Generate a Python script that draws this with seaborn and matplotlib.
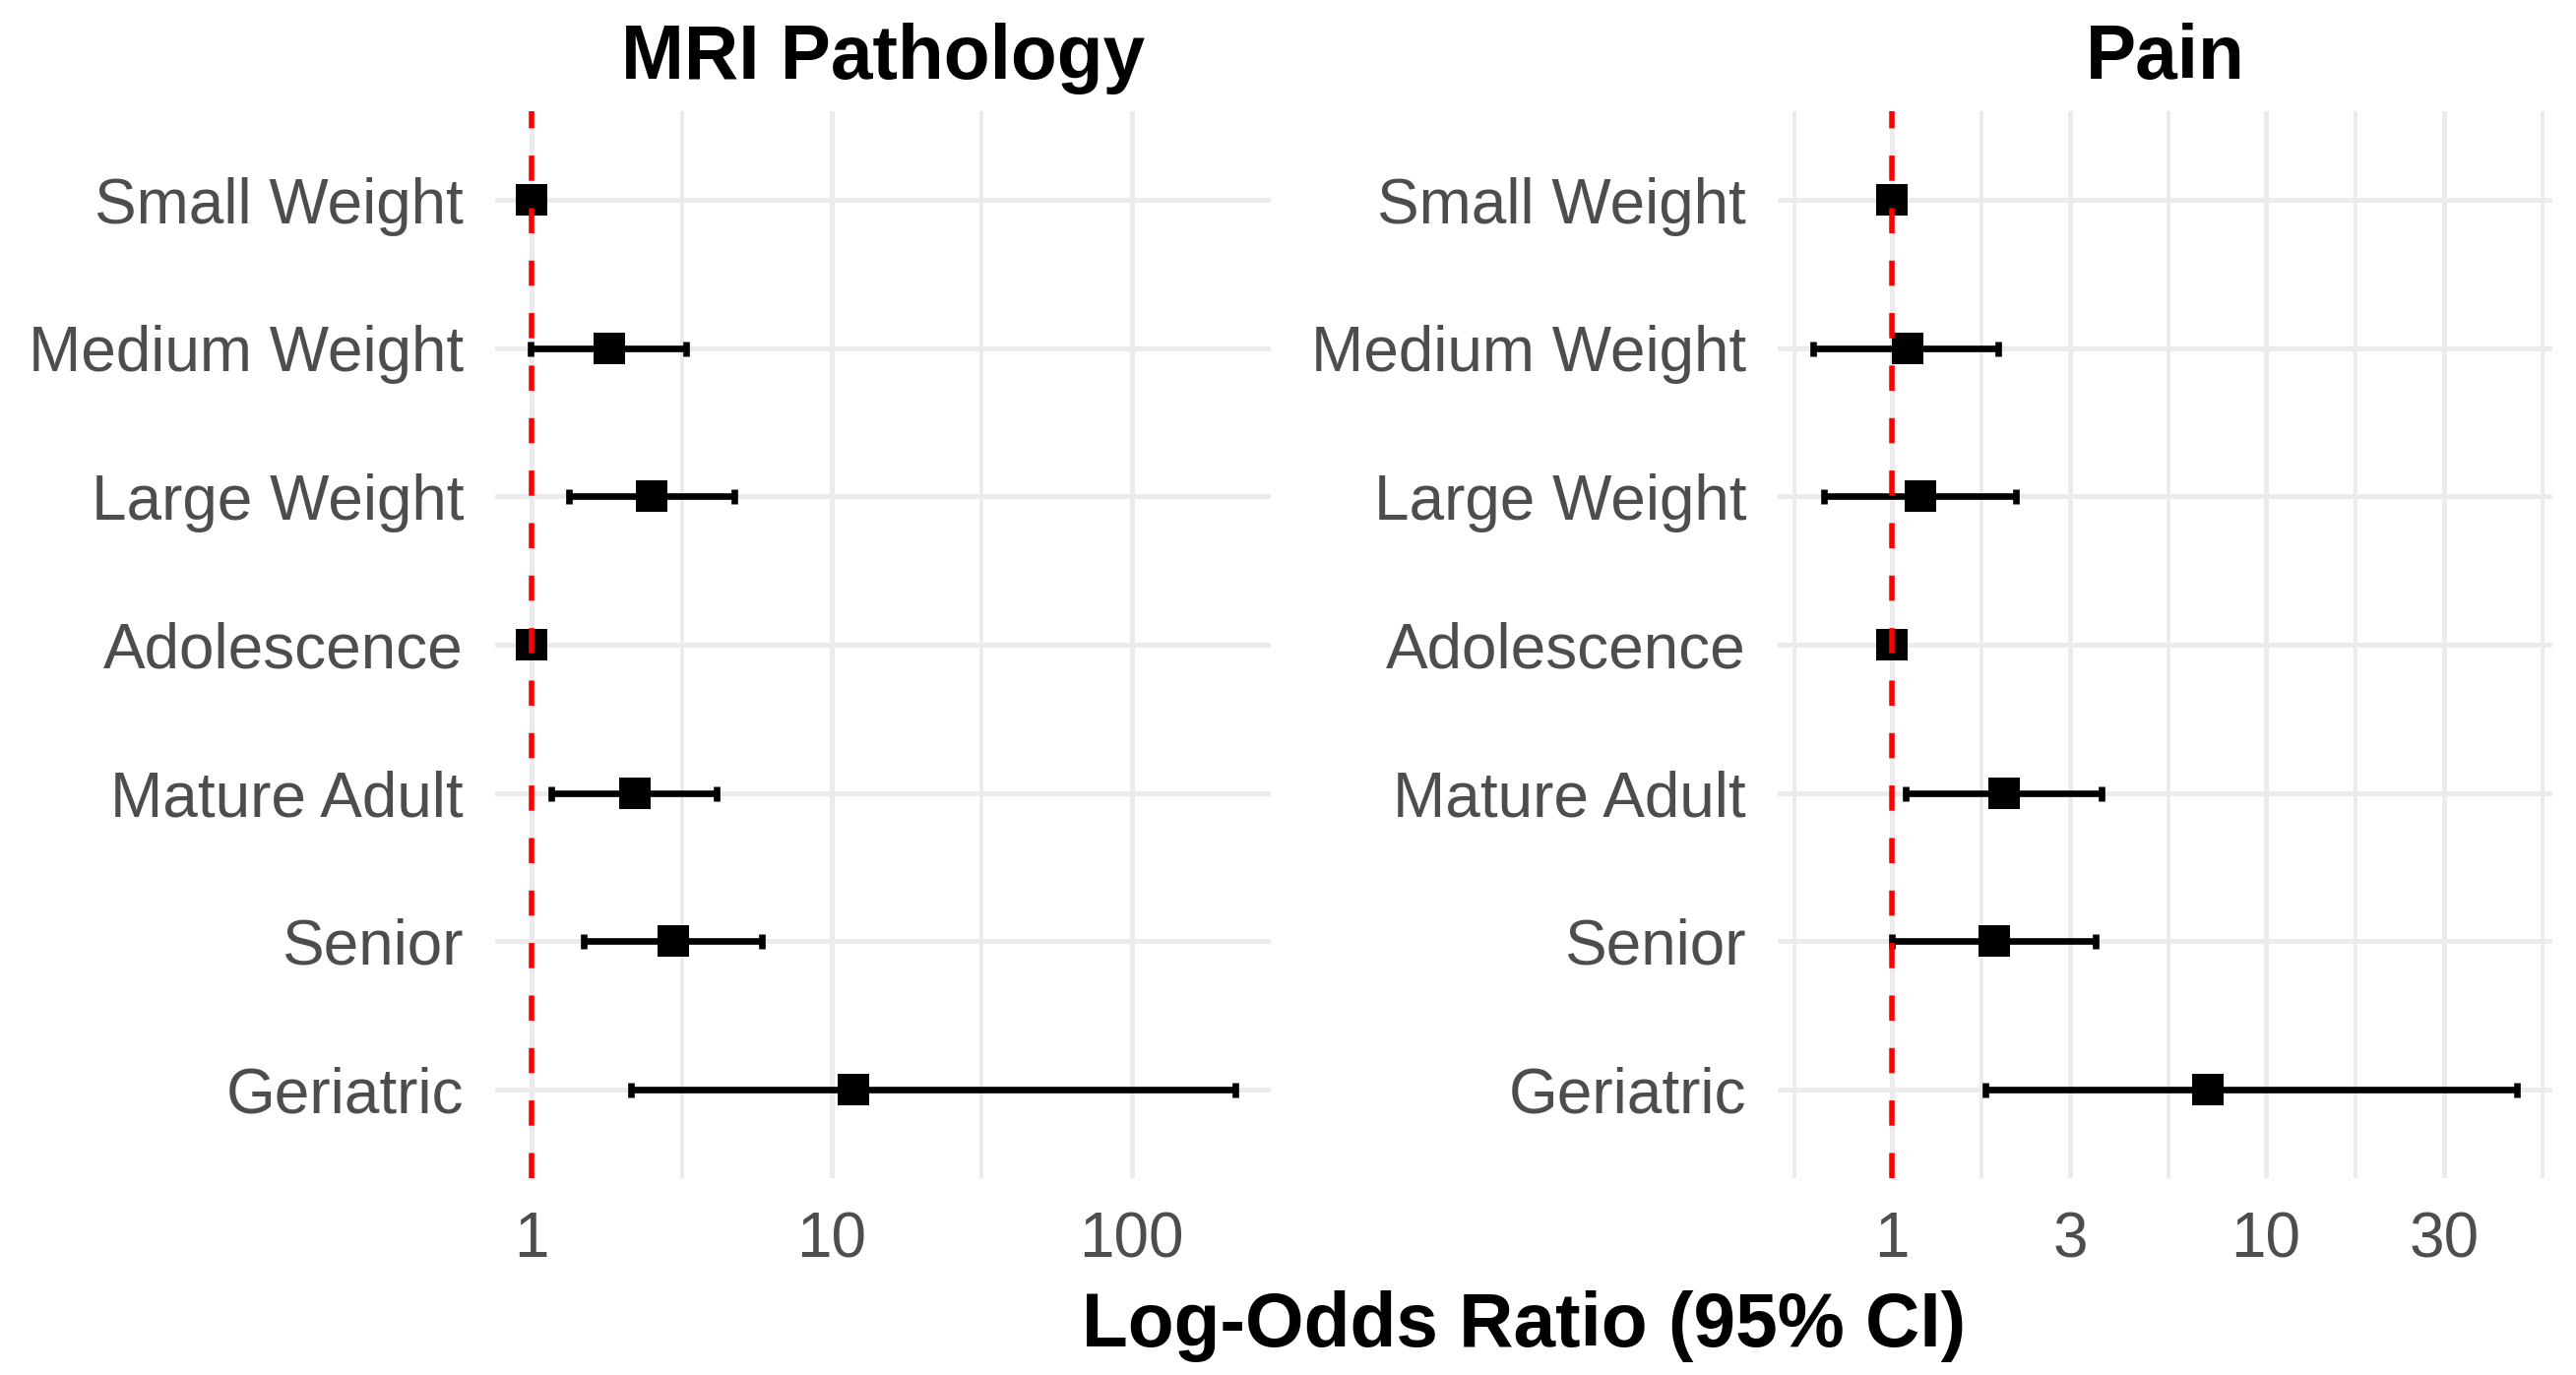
import numpy as np
import pandas as pd
import matplotlib.pyplot as plt
from matplotlib.ticker import NullFormatter
import seaborn as sns

# categories, top to bottom
categories = ["Small Weight", "Medium Weight", "Large Weight", "Adolescence",
              "Mature Adult", "Senior", "Geriatric"]

# MRI pathology: odds ratio and 95% CI
mri_or = [1.0, 1.81, 2.52, 1.0, 2.21, 2.96, 11.8]
mri_lo = [1.0, 0.99, 1.33, 1.0, 1.16, 1.49, 2.15]
mri_hi = [1.0, 3.26, 4.75, 1.0, 4.15, 5.85, 222.0]

# Pain: odds ratio and 95% CI
pain_or = [1.0, 1.10, 1.19, 1.0, 1.99, 1.88, 7.0]
pain_lo = [1.0, 0.615, 0.658, 1.0, 1.09, 1.0, 1.78]
pain_hi = [1.0, 1.92, 2.14, 1.0, 3.64, 3.51, 46.9]

mri_breaks = [1, 10, 100, 1000]
mri_labels = ["1", "10", "100", "1000"]
pain_breaks = [0.3, 1, 3, 10, 30, 100]
pain_labels = ["0.3", "1", "3", "10", "30", "100"]

sns.set_theme(style="white")
plt.rcParams['font.family'] = ['Liberation Sans', 'DejaVu Sans']

W, H = 2617, 1397
fig = plt.figure(figsize=(W / 200, H / 200), dpi=200)
ax_l = fig.add_axes([503 / W, 200 / H, 788 / W, 1084 / H])
ax_r = fig.add_axes([1806 / W, 200 / H, 787 / W, 1084 / H])

GRID = '#EBEBEB'
TXT = '#4D4D4D'


def forest(ax, title, odds, lo, hi, breaks, labels):
    df = pd.DataFrame({'Variable': categories, 'OR': odds,
                       'Lower': lo, 'Upper': hi})
    pos = np.arange(len(df))

    # squares
    sns.pointplot(data=df, x='OR', y='Variable', order=categories,
                  errorbar=None, linestyle='none', marker='s', color='black',
                  markersize=11.5, markeredgewidth=0, ax=ax, zorder=3)
    # CI bars
    ax.errorbar(df['OR'], pos,
                xerr=[df['OR'] - df['Lower'], df['Upper'] - df['OR']],
                fmt='none', ecolor='black', elinewidth=2.4,
                capsize=2.7, capthick=2.4, zorder=2)
    ax.axvline(1, color='red', lw=2.0, ls=(0, (4.6, 5.0)), zorder=4)

    ax.set_xscale('log')
    ax.set_xticks(breaks, labels)
    minors = [np.sqrt(breaks[i] * breaks[i + 1]) for i in range(len(breaks) - 1)]
    minors = [breaks[0] / np.sqrt(breaks[1] / breaks[0])] + minors
    ax.set_xticks(minors, minor=True)
    ax.xaxis.set_minor_formatter(NullFormatter())

    # ggplot-style 5% expansion on the log scale
    a, b = np.log10(df['Lower'].min()), np.log10(df['Upper'].max())
    span = b - a
    ax.set_xlim(10 ** (a - 0.05 * span), 10 ** (b + 0.05 * span))
    ax.set_ylim(len(df) - 0.4, -0.6)

    ax.grid(True, which='major', axis='both', color=GRID, lw=1.8, zorder=0)
    ax.grid(True, which='minor', axis='x', color=GRID, lw=1.4, zorder=0)
    ax.set_axisbelow(True)
    for s in ax.spines.values():
        s.set_visible(False)

    ax.tick_params(axis='both', which='both', length=0, labelsize=23,
                   labelcolor=TXT)
    ax.tick_params(axis='x', pad=11.9)
    ax.tick_params(axis='y', pad=11.5)
    ax.set_xlabel('')
    ax.set_ylabel('')
    ax.set_title(title, fontsize=27.6, fontweight='bold', color='black', pad=12)


forest(ax_l, 'MRI Pathology', mri_or, mri_lo, mri_hi, mri_breaks, mri_labels)
forest(ax_r, 'Pain', pain_or, pain_lo, pain_hi, pain_breaks, pain_labels)

fig.text(1548 / W, 29 / H, 'Log-Odds Ratio (95% CI)', ha='center',
         va='baseline', fontsize=27.6, fontweight='bold', color='black')

fig.savefig('out.png', dpi=200)
